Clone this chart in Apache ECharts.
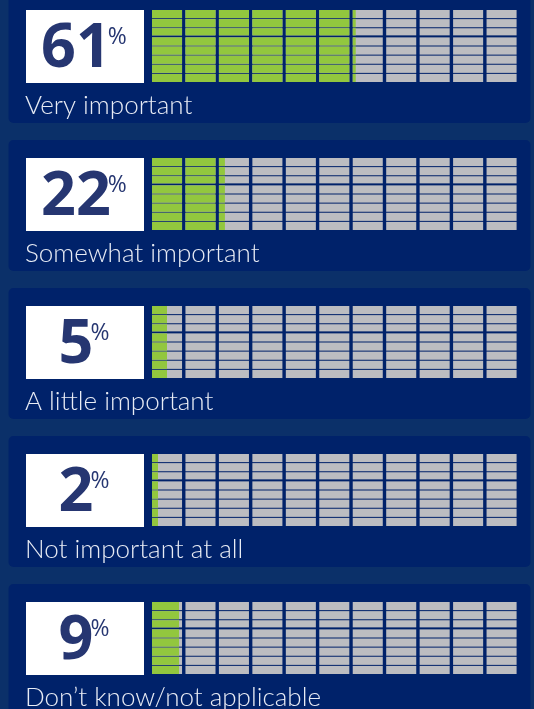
<!DOCTYPE html>
<html>
<head>
<meta charset="utf-8">
<script src="https://cdn.jsdelivr.net/npm/echarts@6/dist/echarts.min.js"></script>
<style>
html,body{margin:0;padding:0;background:#0b3069;}
#chart{width:534px;height:709px;}
</style>
</head>
<body>
<div id="chart"></div>
<script>
// ---- data ----
const categories = ['Very important', 'Somewhat important', 'A little important', 'Not important at all', 'Don\u2019t know/not applicable'];
const values = [61, 22, 5, 2, 9];
const columnTicks = [0, 10, 20, 30, 40, 50, 60, 70, 80, 90, 100]; // each column = 10%
const rowIndex = [0, 1, 2, 3, 4, 5, 6, 7];
const axisMax = 110;

// ---- layout / style ----
const PITCH = 148;
const FIRST_TOP = 10;
const GRID_LEFT = 152;
const GRID_W = 368;
const GRID_H = 73;
const COL_GAP = 3.4;
const ROW_GAP = 1;
const NAVY = '#263671';
const GREEN = '#92c73e';
const GRAY = '#bcbdc1';
const PANEL = '#00226a';
const OUTER = '#0b3069';

const chart = echarts.init(document.getElementById('chart'), null, {renderer: 'canvas'});

const mctx = document.createElement('canvas').getContext('2d');
function measure(text, font) { mctx.font = font; return mctx.measureText(text).width; }

const grids = [], xAxes = [], yAxes = [], series = [], graphics = [];

categories.forEach((cat, i) => {
  const top = FIRST_TOP + PITCH * i;
  grids.push({left: GRID_LEFT, top: top, width: GRID_W, height: GRID_H});
  xAxes.push({type: 'value', gridIndex: i, min: 0, max: axisMax, show: false});
  yAxes.push({type: 'value', gridIndex: i, min: 0, max: rowIndex.length, inverse: true, show: false});

  const cells = [];
  columnTicks.forEach(c => rowIndex.forEach(r => cells.push([c, r, values[i]])));
  series.push({
    type: 'custom',
    xAxisIndex: i, yAxisIndex: i,
    silent: true,
    data: cells,
    renderItem: function (params, api) {
      const c = api.value(0), r = api.value(1), v = api.value(2);
      const p0 = api.coord([c, r]);
      const p1 = api.coord([c + 10, r + 1]);
      const x = p0[0], y = p0[1];
      const w = p1[0] - p0[0] - COL_GAP;
      const h = p1[1] - p0[1] - ROW_GAP - (r === 2 ? 1 : 0);
      const frac = Math.max(0, Math.min(10, v - c)) / 10;
      const children = [{type: 'rect', shape: {x: x, y: y, width: w, height: h}, style: {fill: GRAY}}];
      if (frac > 0) children.push({type: 'rect', shape: {x: x, y: y, width: w * frac, height: h}, style: {fill: GREEN}});
      return {type: 'group', children: children};
    }
  });

  // panel background
  graphics.push({type: 'rect', left: 8.5, top: top - 18, shape: {width: 522, height: 131, r: 5}, style: {fill: PANEL}, z: -10});
  // white box
  graphics.push({type: 'rect', left: 26, top: top, shape: {width: 118, height: GRID_H}, style: {fill: '#ffffff'}, z: -5});
  // number + percent sign
  const numFont = 'bold 61px "Open Sans"';
  const pctFont = 'normal 23px "Open Sans"';
  const numStr = String(values[i]);
  const nw = measure(numStr, numFont) - 3;
  const pw = measure('%', pctFont);
  const startX = 84 - (nw + pw) / 2;
  graphics.push({type: 'text', x: startX, y: top + 40, style: {text: numStr, font: numFont, fill: NAVY, align: 'left', verticalAlign: 'middle'}, z: 1});
  graphics.push({type: 'text', x: startX + nw, y: top + 27, style: {text: '%', font: pctFont, fill: NAVY, align: 'left', verticalAlign: 'middle'}, z: 1});
  // category label
  graphics.push({type: 'text', x: 25, y: top + 96, style: {text: cat, font: '300 26px Lato', fill: '#e8ecf5', align: 'left', verticalAlign: 'middle'}, z: 1});
});

chart.setOption({
  backgroundColor: OUTER,
  animation: false,
  grid: grids,
  xAxis: xAxes,
  yAxis: yAxes,
  series: series,
  graphic: graphics
});
</script>
</body>
</html>
